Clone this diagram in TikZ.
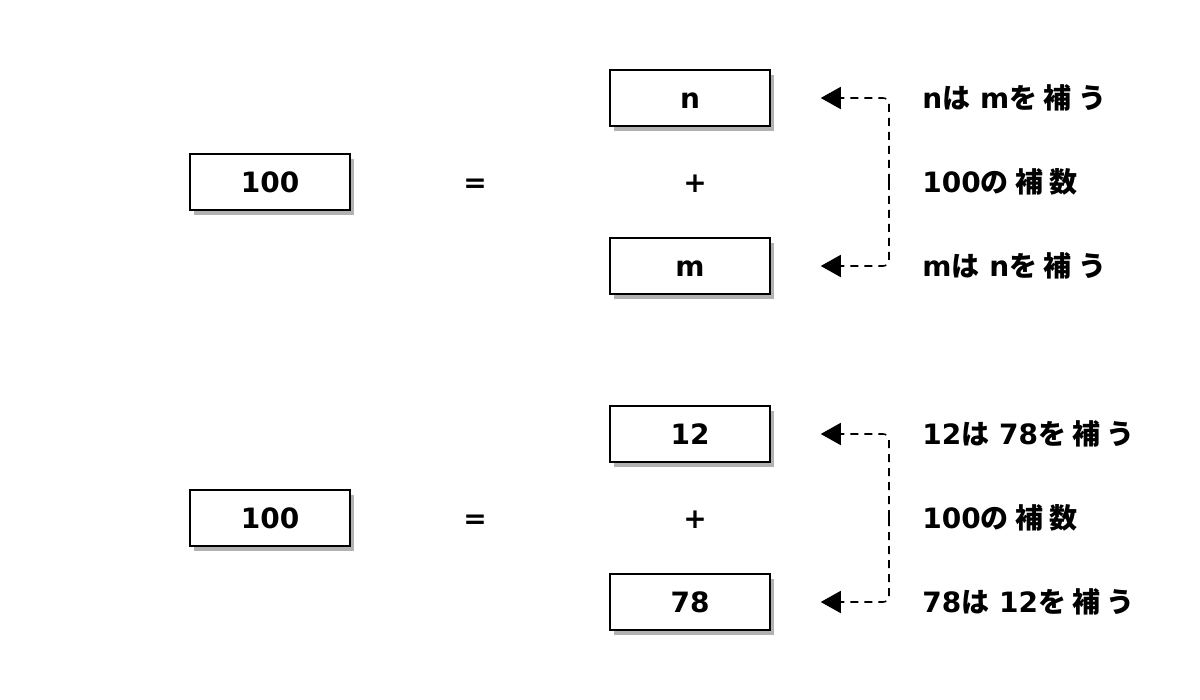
\documentclass[tikz,border=0pt]{standalone}
\usepackage{fontspec}
\setmainfont{DejaVu Sans}
\newfontfamily\jpfont{Noto Sans CJK JP}
\newcommand\J[1]{{\jpfont\bfseries #1}}
\usetikzlibrary{arrows.meta,shadows}
\begin{document}
\begin{tikzpicture}[x=0.5pt,y=-0.5pt,
  font=\bfseries\fontsize{14}{16}\selectfont,
  txt/.style={text height=10.2pt, text depth=0pt},
  blk/.style={txt, draw=black, fill=white, line width=0.75pt, minimum width=80pt, minimum height=28pt, inner sep=0pt,
    drop shadow={shadow xshift=2pt, shadow yshift=-2.5pt, fill=black, opacity=0.3}},
  op/.style={txt, inner sep=0pt},
  lbl/.style={txt, anchor=west, inner sep=0pt},
  edge/.style={line width=0.8pt, dash pattern=on 4pt off 3pt, rounded corners=3pt,
    -{Triangle[length=10pt,width=11pt]}}]
\useasboundingbox (0,0) rectangle (1200,700);
% top group
\node[blk] (a1) at (270,182) {100};
\node[op] (eq1) at (475,182) {=};
\node[blk] (n) at (690,98) {n};
\node[op] (plus1) at (695,182) {+};
\node[blk] (m) at (690,266) {m};
\coordinate (h1) at (889,182);
\coordinate (nt) at ([xshift=25pt]n.east);
\coordinate (mt) at ([xshift=25pt]m.east);
\draw[edge] (h1) |- (nt);
\draw[edge] (h1) |- (mt);
\node[lbl] (t1) at (922,98) {n\J{は} m\J{を 補 う}};
\node[lbl] (t2) at (922,182) {100\J{の 補 数}};
\node[lbl] (t3) at (922,266) {m\J{は} n\J{を 補 う}};
% bottom group
\node[blk] (a2) at (270,518) {100};
\node[op] (eq2) at (475,518) {=};
\node[blk] (x12) at (690,434) {12};
\node[op] (plus2) at (695,518) {+};
\node[blk] (x78) at (690,602) {78};
\coordinate (h2) at (889,518);
\coordinate (at) at ([xshift=25pt]x12.east);
\coordinate (bt) at ([xshift=25pt]x78.east);
\draw[edge] (h2) |- (at);
\draw[edge] (h2) |- (bt);
\node[lbl] (u1) at (922,434) {12\J{は} 78\J{を 補 う}};
\node[lbl] (u2) at (922,518) {100\J{の 補 数}};
\node[lbl] (u3) at (922,602) {78\J{は} 12\J{を 補 う}};
\end{tikzpicture}
\end{document}
